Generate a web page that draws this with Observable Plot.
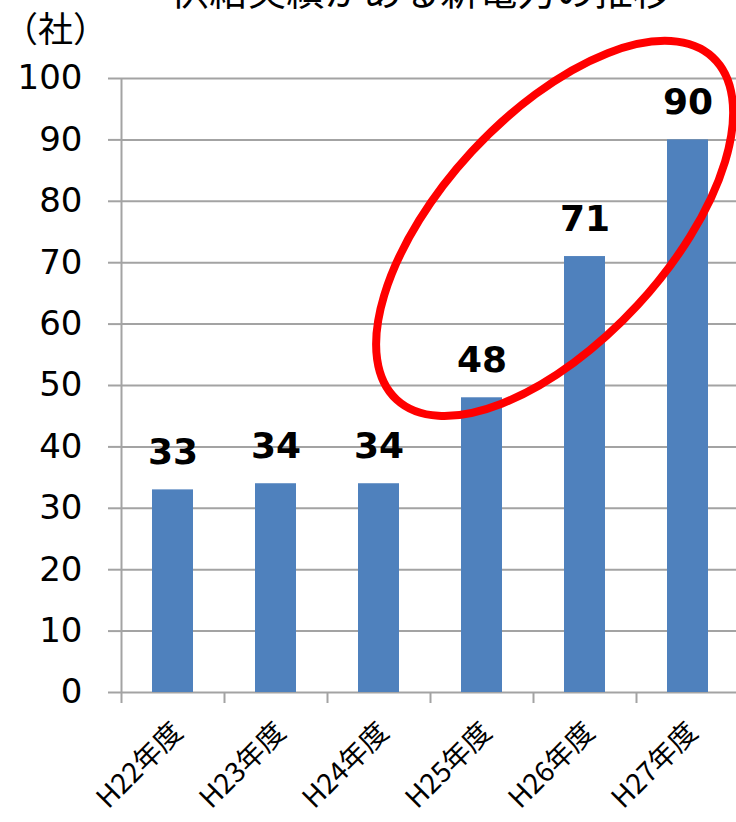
<!DOCTYPE html>
<html>
<head>
<meta charset="utf-8">
<script src="https://cdn.jsdelivr.net/npm/d3@7"></script>
<script src="https://cdn.jsdelivr.net/npm/@observablehq/plot@0.6"></script>
<style>
  html, body { margin: 0; padding: 0; background: #fff; overflow: hidden; }
  #wrap { position: relative; width: 736px; height: 822px; overflow: hidden; }
  #title { position: absolute; left: 0; width: 842px; top: -31px; text-align: center;
           font-family: "Noto Sans CJK JP", sans-serif; font-size: 38.5px; line-height: 38.5px; color: #000; white-space: nowrap; }
  #chart { position: absolute; left: 0; top: 0; }
</style>
</head>
<body>
<div id="wrap">
  <div id="title"></div>
  <div id="chart"></div>
</div>
<script>
const titleText = "供給実績がある新電力の推移";
const unitLabel = "（社）";
const years = ["H22年度", "H23年度", "H24年度", "H25年度", "H26年度", "H27年度"];
const counts = [33, 34, 34, 48, 71, 90];
const yTicks = [0, 10, 20, 30, 40, 50, 60, 70, 80, 90, 100];
// highlight ellipse: centre placed between H25 and H26 (fraction of band step past H25), value on y scale
const highlightAfter = "H25年度";
const highlightStepFrac = 0.71;
const highlightValue = 75.5;

const data = years.map((year, i) => ({year, count: counts[i]}));

document.getElementById("title").textContent = titleText;

const W = 736, H = 822;
const mL = 121, mR = -3, mT = 78, mB = 130;
const step = (W - mL - mR) / years.length;
const gridColor = "#a3a3a3";

const ellipseMark = (index, scales, values, dims, context) => {
  const x = scales.x, y = scales.y;
  const bw = x.bandwidth ? x.bandwidth() : 0;
  const s = x(years[1]) - x(years[0]);
  const cx = x(highlightAfter) + bw / 2 + highlightStepFrac * s;
  const cy = y(highlightValue);
  const el = document.createElementNS("http://www.w3.org/2000/svg", "ellipse");
  el.setAttribute("cx", cx);
  el.setAttribute("cy", cy);
  el.setAttribute("rx", 233);
  el.setAttribute("ry", 113);
  el.setAttribute("transform", `rotate(-47.3 ${cx} ${cy})`);
  el.setAttribute("fill", "none");
  el.setAttribute("stroke", "#ff0000");
  el.setAttribute("stroke-width", 8);
  return el;
};

const chart = Plot.plot({
  width: W,
  height: H,
  marginLeft: mL,
  marginRight: mR,
  marginTop: mT,
  marginBottom: mB,
  style: {background: "transparent", overflow: "visible"},
  x: {domain: years, paddingInner: 0.6, paddingOuter: 0.3, label: null},
  y: {domain: [0, 100], label: null},
  marks: [
    Plot.ruleY(yTicks, {stroke: gridColor, strokeWidth: 2}),
    Plot.ruleX([years[0]], {x: d => d, y1: 0, y2: yTicks[yTicks.length - 1], dx: -step / 2, stroke: gridColor, strokeWidth: 2}),
    Plot.ruleX(years, {x: d => d, y1: 0, dx: -step / 2, insetBottom: -11, stroke: gridColor, strokeWidth: 2}),
    Plot.barY(data, {x: "year", y: "count", fill: "#4f81bd"}),
    Plot.axisY({ticks: yTicks, tickSize: 13, tickPadding: 26, stroke: gridColor, strokeWidth: 2, fill: "#000",
      fontSize: 34, fontFamily: "DejaVu Sans", tickFormat: d => String(d)}),
    Plot.axisX({tickSize: 0, tickRotate: -45, tickPadding: 35, dx: 5, fill: "#000",
      fontSize: 28, fontFamily: "Noto Sans CJK JP"}),
    Plot.text(data, {x: "year", y: "count", text: d => String(d.count), dy: -26, lineAnchor: "bottom",
      fontSize: 36, fontWeight: "bold", fontFamily: "DejaVu Sans", fill: "#000"}),
    Plot.text([unitLabel], {frameAnchor: "top-left", text: d => d, dx: -66, dy: -48, textAnchor: "middle", lineAnchor: "middle",
      fontSize: 35, fontFamily: "Noto Sans CJK JP", fill: "#000"}),
    ellipseMark
  ]
});
document.getElementById("chart").appendChild(chart);
</script>
</body>
</html>
